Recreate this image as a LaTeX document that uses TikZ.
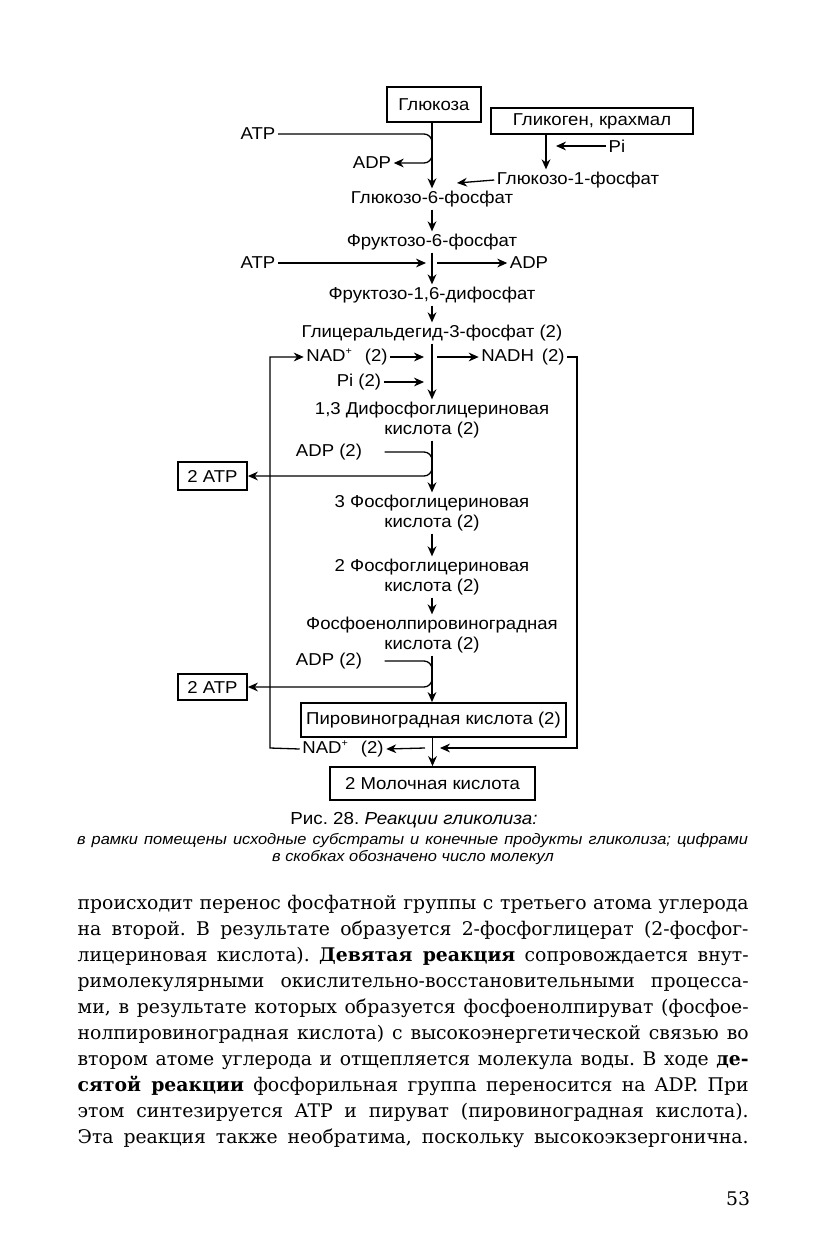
\documentclass[tikz,border=0pt]{standalone}
\usepackage{fontspec}
\setmainfont{DejaVu Serif}
\setsansfont{Liberation Sans}[FakeStretch=1.08]
\usepackage{tikz}
\usetikzlibrary{arrows.meta}
\tikzset{
	box node/.style={draw,line width=0.9pt,font=\sffamily\fontsize{8.6}{10}\selectfont,inner sep=0pt},
	label node/.style={font=\sffamily\fontsize{8.6}{10}\selectfont,inner sep=1pt},
	two line/.style={label node,align=center}
}
\newcommand{\nadplus}{NAD\textsuperscript{\tiny +}}
\newcommand{\fullline}[1]{\makebox[335.5pt][s]{#1}\\}

\begin{document}
\frenchspacing
\begin{tikzpicture}[->,>={Stealth[length=5pt,width=4.4pt,inset=1.6pt]},x=0.5pt,y=-0.5pt,line width=0.65pt]
	\useasboundingbox (0,0) rectangle (827,1239);
	\node [box node,minimum width=47pt,minimum height=17.5pt] (1) at (434,104.5) {Глюкоза};
	\node [box node,minimum width=101pt,minimum height=13pt] (2) at (592,121) {Гликоген, крахмал};
	\node [label node] (3) at (258,134) {ATP};
	\node [label node] (4) at (372,163) {ADP};
	\node [label node] (5) at (617,146) {Pi};
	\node [label node] (6) at (578,180) {Глюкозо-1-фосфат};
	\node [label node] (7) at (432,199) {Глюкозо-6-фосфат};
	\node [label node] (8) at (432,242) {Фруктозо-6-фосфат};
	\node [label node] (9) at (258,263) {ATP};
	\node [label node] (10) at (529,263) {ADP};
	\node [label node] (11) at (432,295) {Фруктозо-1,6-дифосфат};
	\node [label node] (12) at (432,333) {Глицеральдегид-3-фосфат (2)};
	\node [label node] (13) at (347,357) {\nadplus\hspace{6pt}(2)};
	\node [label node] (14) at (523,357) {NADH\hspace{4pt}(2)};
	\node [label node] (15) at (359,382) {Pi (2)};
	\node [two line] (16) at (432,420) {1,3 Дифосфоглицериновая\\кислота (2)};
	\node [label node] (17) at (329,452) {ADP (2)};
	\node [box node,minimum width=34.5pt,minimum height=14pt] (18) at (212.5,476) {2 ATP};
	\node [two line] (19) at (432,513) {3 Фосфоглицериновая\\кислота (2)};
	\node [two line] (20) at (432,577) {2 Фосфоглицериновая\\кислота (2)};
	\node [two line] (21) at (432,635) {Фосфоенолпировиноградная\\кислота (2)};
	\node [label node] (22) at (329,661) {ADP (2)};
	\node [box node,minimum width=34.5pt,minimum height=13pt] (23) at (212.5,687) {2 ATP};
	\node [box node,minimum width=132.5pt,minimum height=17pt] (24) at (433.5,720) {Пировиноградная кислота (2)};
	\node [label node] (25) at (343,749) {\nadplus\hspace{6pt}(2)};
	\node [box node,minimum width=102.5pt,minimum height=16.5pt] (26) at (432.5,783.5) {2 Молочная кислота};

	\coordinate (5e) at (556,146);
	\coordinate (6e) at (457,183);
	\coordinate (9e) at (426,263);
	\coordinate (10s) at (437,263);
	\coordinate (13e) at (424,357);
	\coordinate (14s) at (437,357);
	\coordinate (15e) at (424,382);
	\coordinate (r) at (577,748);
	\coordinate (24e) at (440,748);
	\coordinate (25s) at (425,748);
	\coordinate (l) at (270,748);

	\draw (1.south -| 7.north) -- (7.north);
	\draw [rounded corners=4pt] (3.east) -- (3.east -| 7.north) -- (4.east -| 7.north) -- (4.east);
	\draw ([xshift=-23pt]2.south) -- ([xshift=-23pt]2.south |- 6.north);
	\draw (5.west) -- (5e);
	\draw (6.west) -- (6e);
	\draw (7.south) -- (8.north);
	\draw (9.east) -- (9e);
	\draw (8.south) -- (11.north);
	\draw (10s) -- (10.west);
	\draw (11.south) -- (12.north);
	\draw (12.south) -- (16.north);
	\draw (13.east) -- (13e);
	\draw (14s) -- (14.west);
	\draw (15.east) -- (15e);
	\draw (14.east) -| (r) -- (24e);
	\draw (25s) -- (25.east);
	\draw (25.west) -- (l) |- (13.west);
	\draw (16.south) -- (19.north);
	\draw [rounded corners=4pt] ([xshift=10pt]17.east) -- (17.east -| 16.south) -- (18.east -| 16.south) -- (18.east);
	\draw (19.south) -- (20.north);
	\draw (20.south) -- (21.north);
	\draw (21.south) -- (21.south |- 24.north);
	\draw [rounded corners=4pt] ([xshift=10pt]22.east) -- (22.east -| 21.south) -- (23.east -| 21.south) -- (23.east);
	\draw (24.south -| 26.north) -- (26.north);

	\node [font=\sffamily\fontsize{8.7}{10}\selectfont] (27) at (414,820) {Рис. 28. \textit{Реакции гликолиза:}};
	\node [font=\sffamily\itshape\fontsize{7.6}{8.3}\selectfont,inner sep=0pt] (28) at (412.5,840) {\makebox[335.5pt][s]{в рамки помещены исходные субстраты и конечные продукты гликолиза; цифрами}};
	\node [font=\sffamily\itshape\fontsize{7.6}{8.3}\selectfont,inner sep=0pt] (29) at (413,857) {в скобках обозначено число молекул};

	\node [font=\fontsize{9.4}{12.95}\selectfont,align=left,inner sep=0pt,anchor=north west] (30) at (77,895) {%
		\fullline{происходит перенос фосфатной группы с третьего атома углерода}
		\fullline{на второй. В результате образуется 2-фосфоглицерат (2-фосфог-}
		\fullline{лицериновая кислота). \textbf{Девятая реакция} сопровождается внут-}
		\fullline{римолекулярными окислительно-восстановительными процесса-}
		\fullline{ми, в результате которых образуется фосфоенолпируват (фосфое-}
		\fullline{нолпировиноградная кислота) с высокоэнергетической связью во}
		\fullline{втором атоме углерода и отщепляется молекула воды. В ходе \textbf{де-}}
		\fullline{\textbf{сятой реакции} фосфорильная группа переносится на ADP. При}
		\fullline{этом синтезируется ATP и пируват (пировиноградная кислота).}
		\makebox[335.5pt][s]{Эта реакция также необратима, поскольку высокоэкзергонична.}};
	\node [font=\fontsize{9.4}{11}\selectfont] (31) at (738,1199) {53};
\end{tikzpicture}
\end{document}
